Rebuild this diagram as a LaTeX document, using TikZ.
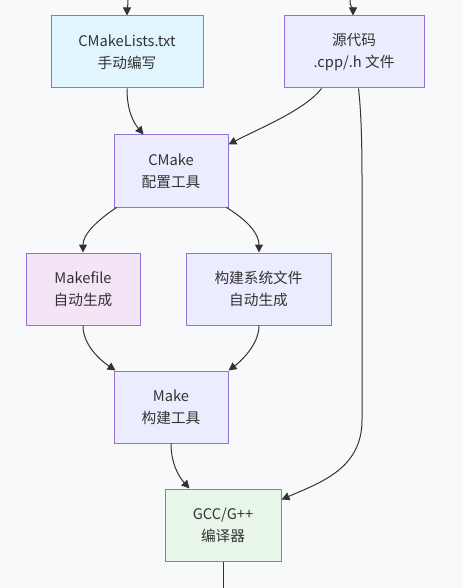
\documentclass[tikz,border=0pt]{standalone}
\usepackage{fontspec}
\setmainfont{Noto Sans CJK SC}
\usetikzlibrary{arrows.meta,calc}
\definecolor{bg}{HTML}{F8F9FB}
\definecolor{bd}{HTML}{9370DB}
\definecolor{ln}{HTML}{333333}
\definecolor{fdef}{HTML}{ECECFF}
\definecolor{fcyan}{HTML}{E1F5FE}
\definecolor{fpink}{HTML}{F3E5F5}
\definecolor{fgreen}{HTML}{E8F5E9}
\begin{document}
\begin{tikzpicture}[x=0.75pt,y=-0.75pt,
  box/.style={draw=bd,line width=0.75pt,fill=fdef,minimum height=54pt,
    align=center,text=ln,font=\fontsize{11}{16.5}\selectfont,inner sep=0pt},
  arr/.style={draw=ln,line width=0.75pt,-{Triangle[length=6pt,width=6pt]}},
  ln/.style={draw=ln,line width=0.75pt}]
\fill[bg] (0,0) rectangle (463,588);
\useasboundingbox (0,0) rectangle (463,588);
\node[box,fill=fcyan,minimum width=114pt] (cml) at (127,52) {CMakeLists.txt\\手动编写};
\node[box,minimum width=105pt] (src) at (354,52) {源代码\\.cpp/.h 文件};
\node[box,minimum width=85.5pt] (cmake) at (171,171) {CMake\\配置工具};
\node[box,fill=fpink,minimum width=85.5pt] (mf) at (83,289) {Makefile\\自动生成};
\node[box,minimum width=108.75pt] (bs) at (258.5,289) {构建系统文件\\自动生成};
\node[box,minimum width=85.5pt] (make) at (171,407) {Make\\构建工具};
\node[box,fill=fgreen,minimum width=87pt] (gcc) at (223,525) {GCC/G++\\编译器};
\coordinate (t1) at (128,0);
\coordinate (t2) at (350,0);
\coordinate (bot) at (223,588);
\draw[arr] (t1) .. controls (128,8) and (127,8) .. (cml.north);
\draw[arr] (t2) .. controls (350,8) and (353,8) .. ($(src.north)+(-1,0)$);
\draw[arr] ($(cml.south)$) .. controls (127,110) and (133,122) .. ($(cmake.north west)+(30,0)$);
\draw[arr] ($(src.south west)+(38,0)$) .. controls (305,110) and (260,128) .. ($(cmake.north east)+(0,10)$);
\draw[arr] ($(src.south west)+(75,0)$) .. controls (361,110) and (362,140) .. (362,180) -- (362,420) .. controls (362,468) and (322,482) .. ($(gcc.north east)+(0,11)$);
\draw[arr] ($(cmake.south west)+(3,0)$) .. controls (95,222) and (83,235) .. (mf.north);
\draw[arr] ($(cmake.south east)+(-2,0)$) .. controls (250,222) and (259,235) .. ($(bs.north)+(0.5,0)$);
\draw[arr] (mf.south) .. controls (83,345) and (100,360) .. ($(make.north west)+(2,0)$);
\draw[arr] ($(bs.south)+(0.5,0)$) .. controls (259,345) and (240,362) .. ($(make.north east)+(0,0)$);
\draw[arr] (make.south) .. controls (171,465) and (180,478) .. ($(gcc.north west)+(25,0)$);
\draw[ln] (gcc.south) -- (bot);
\end{tikzpicture}
\end{document}
